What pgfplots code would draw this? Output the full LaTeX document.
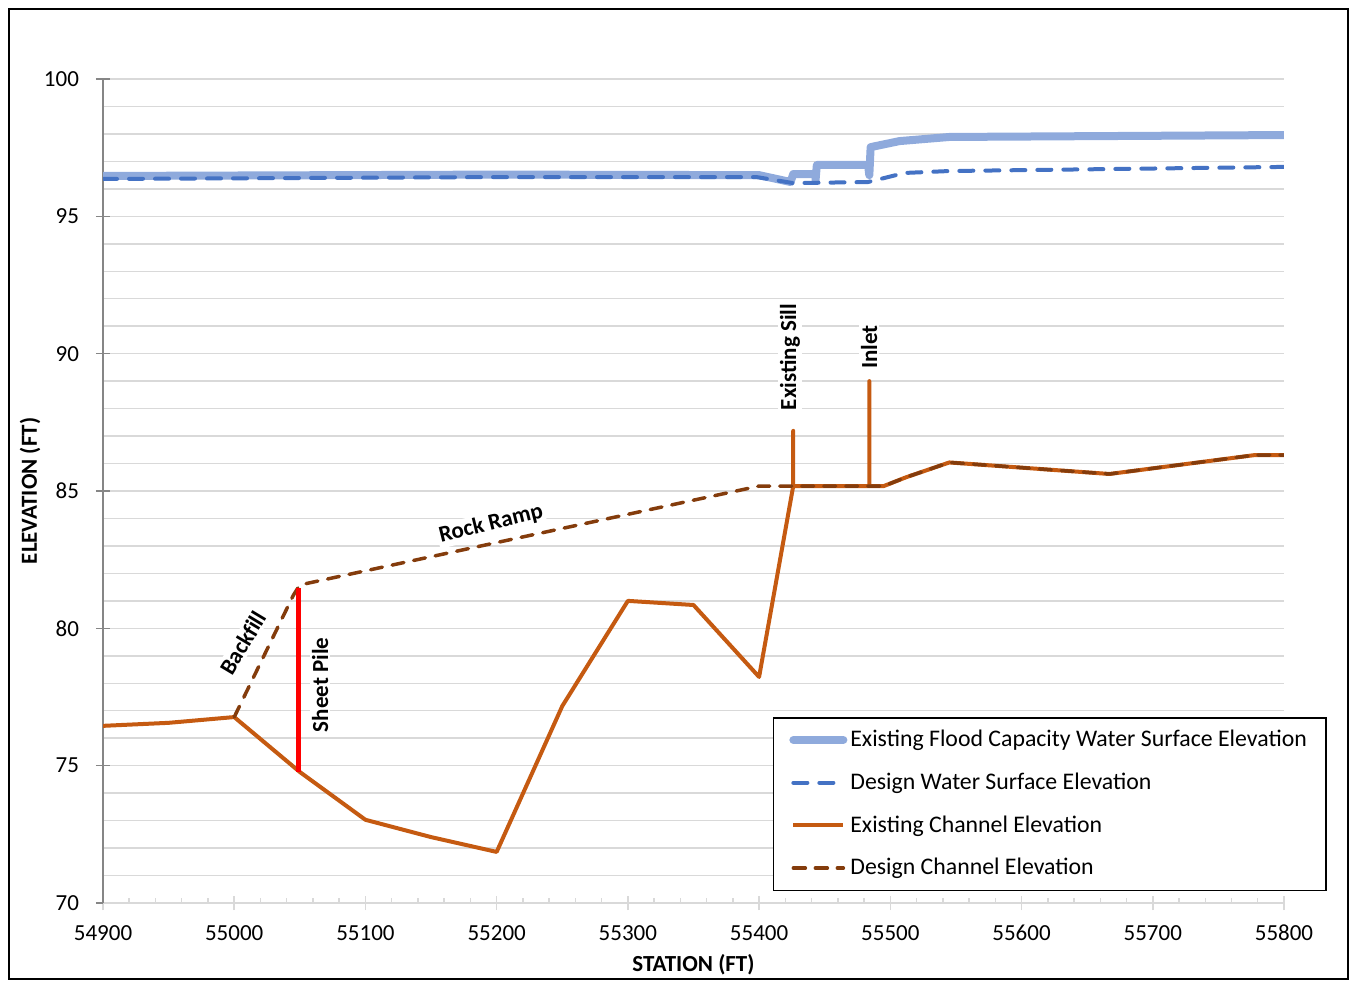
\documentclass[border=0pt]{standalone}
\usepackage{pgfplots}
\pgfplotsset{compat=1.18}
\usepackage{fontspec}
\setmainfont{Carlito}
\definecolor{wselight}{HTML}{8FAADC}
\definecolor{wsedesign}{HTML}{4472C4}
\definecolor{chexist}{HTML}{C55A11}
\definecolor{chdesign}{HTML}{843C0C}
\definecolor{gridgray}{HTML}{D9D9D9}
\definecolor{axgray}{HTML}{868686}
\newcommand{\fs}{\fontsize{11.5}{13.5}\selectfont}
\newcommand{\fl}{\fontsize{11.9}{13.9}\selectfont}
\begin{document}
\begin{tikzpicture}
\useasboundingbox (0,0) rectangle (675.5pt,-490.5pt);
\draw[line width=1pt] (4.5pt,-4.5pt) rectangle (674pt,-489.5pt);
\begin{axis}[
  at={(51.5pt,-451.5pt)}, anchor=south west,
  width=590.5pt, height=412pt, scale only axis,
  xmin=54900, xmax=55800, ymin=70, ymax=100,
  xtick={54900,55000,...,55800}, ytick={70,75,...,100},
  minor x tick num=4, minor y tick num=4,
  scaled x ticks=false,
  /pgf/number format/1000 sep={},
  /pgf/number format/assume math mode=true,
  ymajorgrids, yminorgrids,
  major grid style={draw=gridgray, line width=0.75pt},
  minor grid style={draw=gridgray, line width=0.75pt},
  axis x line*=bottom, axis y line*=left,
  x axis line style={draw=gridgray, line width=0.75pt, -},
  y axis line style={draw=axgray, line width=0.75pt, -},
  tick align=center,
  major tick length=7pt, minor tick length=2.5pt,
  major x tick style={draw=gridgray, line width=0.75pt},
  minor x tick style={draw=gridgray, line width=0.75pt, yshift=1.25pt},
  major y tick style={draw=axgray, line width=0.75pt},
  minor y tick style={draw=none},
  ticklabel style={font=\fs},
  yticklabel style={xshift=-5pt},
  xticklabel style={yshift=-4pt},
  xlabel={\textbf{STATION (FT)}},
  ylabel={\textbf{ELEVATION (FT)}},
  xlabel style={font=\fs, at={(axis description cs:0.5,-0.0752)}, anchor=center},
  ylabel style={font=\fs, at={(axis description cs:-0.0618,0.5)}, anchor=center},
  legend style={at={(0.567,0.2257)}, anchor=north west, draw=black, line width=0.75pt,
    font=\fl, row sep=7.6pt, inner xsep=8pt, inner ysep=4.2pt,
    nodes={inner xsep=1.5pt}},
  legend cell align=left,
  every axis legend/.append style={/tikz/every even column/.style={column sep=0pt}},
  legend image code/.code={\draw[#1] (0pt,0pt) -- (25pt,0pt);},
]
% annotations
\node[font=\fs\bfseries\addfontfeature{Ligatures=NoCommon}, rotate=59, fill=white, inner sep=1pt] at (axis cs:55006.7,79.47) {Backfill};
\node[font=\fs\bfseries, rotate=90, fill=white, inner sep=1pt] at (axis cs:55065.4,77.94) {Sheet Pile};
\node[font=\fs\bfseries, rotate=14, fill=white, inner sep=1pt] at (axis cs:55195.7,83.8) {Rock Ramp};
\node[font=\fs\bfseries, rotate=90, fill=white, inner sep=1pt] at (axis cs:55423.5,89.88) {Existing Sill};
\node[font=\fs\bfseries, rotate=90, fill=white, inner sep=1pt] at (axis cs:55483.8,90.24) {Inlet};

\addplot[color=wselight, line width=4pt, line join=round, line cap=round] coordinates {
 (54900,96.47) (55200,96.52) (55400,96.50) (55424,96.25) (55426,96.54)
 (55443,96.54) (55443,96.30) (55444,96.87) (55483,96.87) (55484,96.50)
 (55485,97.52) (55507,97.74) (55545,97.89) (55800,97.96)};
\addlegendentry{Existing Flood Capacity Water Surface Elevation}

\addplot[color=wsedesign, line width=2pt, dash pattern=on 7pt off 6pt, line cap=round] coordinates {
 (54900,96.36) (55200,96.43) (55398,96.43) (55426,96.21) (55483,96.25)
 (55511,96.58) (55545,96.65) (55800,96.80)};
\addlegendentry{Design Water Surface Elevation}

\addplot[color=chexist, line width=2pt, line join=round] coordinates {
 (54900,76.45) (54950,76.56) (55000,76.77) (55050,74.77) (55100,73.03)
 (55150,72.40) (55200,71.86) (55250,77.17) (55300,81.00) (55350,80.85)
 (55400,78.23) (55426,85.18) (55426,87.19) (55426,85.18) (55484,85.18)
 (55484,89.00) (55484,85.18) (55495,85.18) (55512,85.50) (55545,86.04)
 (55667,85.62) (55778,86.31) (55800,86.31)};
\addlegendentry{Existing Channel Elevation}

\addplot[color=chdesign, line width=1.75pt, dash pattern=on 6pt off 5pt, line cap=round] coordinates {
 (55000,76.77) (55045,81.2) (55050,81.58) (55400,85.18) (55495,85.18)
 (55512,85.50) (55545,86.04) (55667,85.62) (55778,86.31) (55800,86.31)};
\addlegendentry{Design Channel Elevation}

\addplot[forget plot, color=red, line width=2.5pt] coordinates {(55049,74.77) (55049,81.47)};
\end{axis}
\end{tikzpicture}
\end{document}
